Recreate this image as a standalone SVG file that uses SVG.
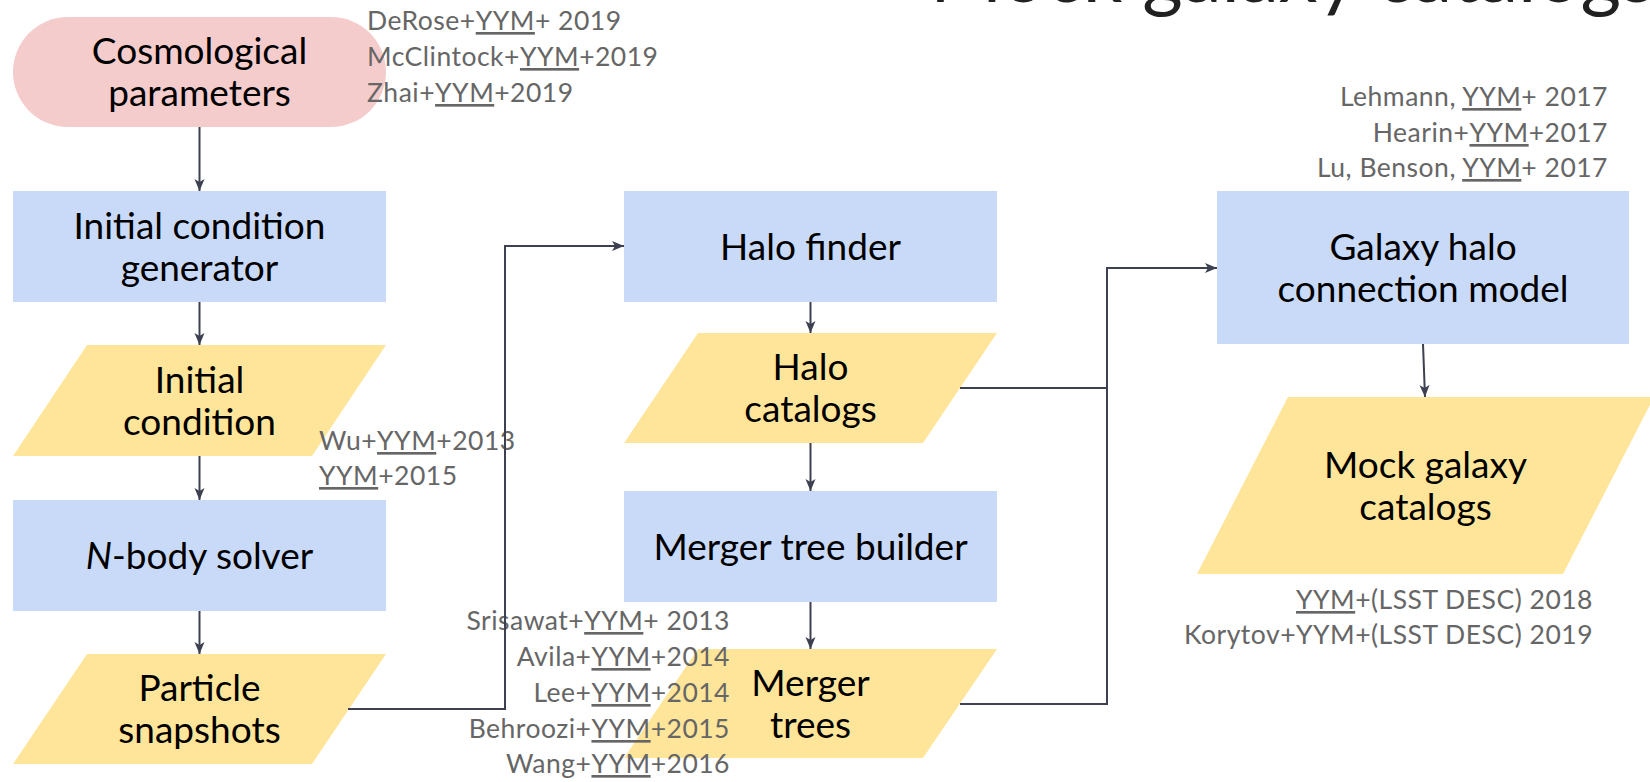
<svg xmlns="http://www.w3.org/2000/svg" width="1650" height="782" viewBox="0 0 1650 782">
<style>
.box{fill:#c9daf8}
.para{fill:#ffe599}
.pill{fill:#f4cccc}
.lbl{font-family:Lato,"Open Sans","Liberation Sans",sans-serif;font-size:37px;fill:#000;text-anchor:middle}
.ref{font-family:Lato,"Open Sans","Liberation Sans",sans-serif;font-size:26.5px;fill:#666;letter-spacing:0.5px}
.u{text-decoration:underline;text-decoration-thickness:3px;text-underline-offset:4px}
.end{text-anchor:end}
.conn{fill:none;stroke:#3c4050;stroke-width:2}
.title{font-family:Lato,"Open Sans","Liberation Sans",sans-serif;font-size:78px;fill:#212121}
</style>
<defs>
<marker id="arr" markerUnits="userSpaceOnUse" markerWidth="14" markerHeight="12" refX="12" refY="5" orient="auto">
<path d="M0,0 L12,5 L0,10 L3,5 z" fill="#3c4050"/>
</marker>
</defs>
<rect width="1650" height="782" fill="#ffffff"/>
<text class="title" x="930" y="2">Mock galaxy catalogs</text>

<g id="cosmo">
<rect class="pill" x="13" y="17" width="373" height="110" rx="55"/>
<text class="lbl" x="199.5" y="64">Cosmological</text>
<text class="lbl" x="199.5" y="106">parameters</text>
</g>
<g id="icgen">
<rect class="box" x="13" y="191" width="373" height="111"/>
<text class="lbl" x="199.5" y="238.5">Initial condition</text>
<text class="lbl" x="199.5" y="280.5">generator</text>
</g>
<g id="ic">
<polygon class="para" points="87,345 386,345 312,456 13,456"/>
<text class="lbl" x="199.5" y="392.5">Initial</text>
<text class="lbl" x="199.5" y="434.5">condition</text>
</g>
<g id="nbody">
<rect class="box" x="13" y="500" width="373" height="111"/>
<text class="lbl" x="199.5" y="568.5"><tspan font-style="italic">N</tspan>-body solver</text>
</g>
<g id="particles">
<polygon class="para" points="87,654 386,654 312,764 13,764"/>
<text class="lbl" x="199.5" y="701">Particle</text>
<text class="lbl" x="199.5" y="743">snapshots</text>
</g>
<g id="halofinder">
<rect class="box" x="624" y="191" width="373" height="111"/>
<text class="lbl" x="810.5" y="259.5">Halo finder</text>
</g>
<g id="halocat">
<polygon class="para" points="698,333 997,333 923,443 624,443"/>
<text class="lbl" x="810.5" y="380">Halo</text>
<text class="lbl" x="810.5" y="422">catalogs</text>
</g>
<g id="treebuilder">
<rect class="box" x="624" y="491" width="373" height="111"/>
<text class="lbl" x="810.5" y="559.5">Merger tree builder</text>
</g>
<g id="trees">
<polygon class="para" points="698,649 997,649 923,758 624,758"/>
<text class="lbl" x="810.5" y="695.5">Merger</text>
<text class="lbl" x="810.5" y="737.5">trees</text>
</g>
<g id="ghc">
<rect class="box" x="1217" y="191" width="412" height="153"/>
<text class="lbl" x="1423" y="259.5">Galaxy halo</text>
<text class="lbl" x="1423" y="301.5">connection model</text>
</g>
<g id="mock">
<polygon class="para" points="1288,397 1654,397 1563,574 1197,574"/>
<text class="lbl" x="1425.5" y="477.5">Mock galaxy</text>
<text class="lbl" x="1425.5" y="519.5">catalogs</text>
</g>

<g id="refs">
<text class="ref" x="367" y="30">DeRose+<tspan class="u">YYM</tspan>+ 2019</text>
<text class="ref" x="367" y="66">McClintock+<tspan class="u">YYM</tspan>+2019</text>
<text class="ref" x="367" y="102">Zhai+<tspan class="u">YYM</tspan>+2019</text>
<text class="ref end" x="1608" y="106">Lehmann, <tspan class="u">YYM</tspan>+ 2017</text>
<text class="ref end" x="1608" y="142">Hearin+<tspan class="u">YYM</tspan>+2017</text>
<text class="ref end" x="1608" y="177">Lu, Benson, <tspan class="u">YYM</tspan>+ 2017</text>
<text class="ref" x="319" y="450">Wu+<tspan class="u">YYM</tspan>+2013</text>
<text class="ref" x="319" y="485"><tspan class="u">YYM</tspan>+2015</text>
<text class="ref end" x="730" y="630">Srisawat+<tspan class="u">YYM</tspan>+ 2013</text>
<text class="ref end" x="730" y="666">Avila+<tspan class="u">YYM</tspan>+2014</text>
<text class="ref end" x="730" y="702">Lee+<tspan class="u">YYM</tspan>+2014</text>
<text class="ref end" x="730" y="738">Behroozi+<tspan class="u">YYM</tspan>+2015</text>
<text class="ref end" x="730" y="773">Wang+<tspan class="u">YYM</tspan>+2016</text>
<text class="ref end" x="1593" y="609"><tspan class="u">YYM</tspan>+(LSST DESC) 2018</text>
<text class="ref end" x="1593" y="644">Korytov+YYM+(LSST DESC) 2019</text>
</g>

<g id="connectors">
<path class="conn" d="M199.5,127 V191" marker-end="url(#arr)"/>
<path class="conn" d="M199.5,302 V345" marker-end="url(#arr)"/>
<path class="conn" d="M199.5,456 V500" marker-end="url(#arr)"/>
<path class="conn" d="M199.5,611 V654" marker-end="url(#arr)"/>
<path class="conn" d="M348,709 H505 V246 H624" marker-end="url(#arr)"/>
<path class="conn" d="M810.5,302 V333" marker-end="url(#arr)"/>
<path class="conn" d="M810.5,443 V491" marker-end="url(#arr)"/>
<path class="conn" d="M810.5,602 V649" marker-end="url(#arr)"/>
<path class="conn" d="M960,388 H1107 V268 H1217" marker-end="url(#arr)"/>
<path class="conn" d="M960,704 H1107 V388"/>
<path class="conn" d="M1423,344 L1425,397" marker-end="url(#arr)"/>
</g>
</svg>
